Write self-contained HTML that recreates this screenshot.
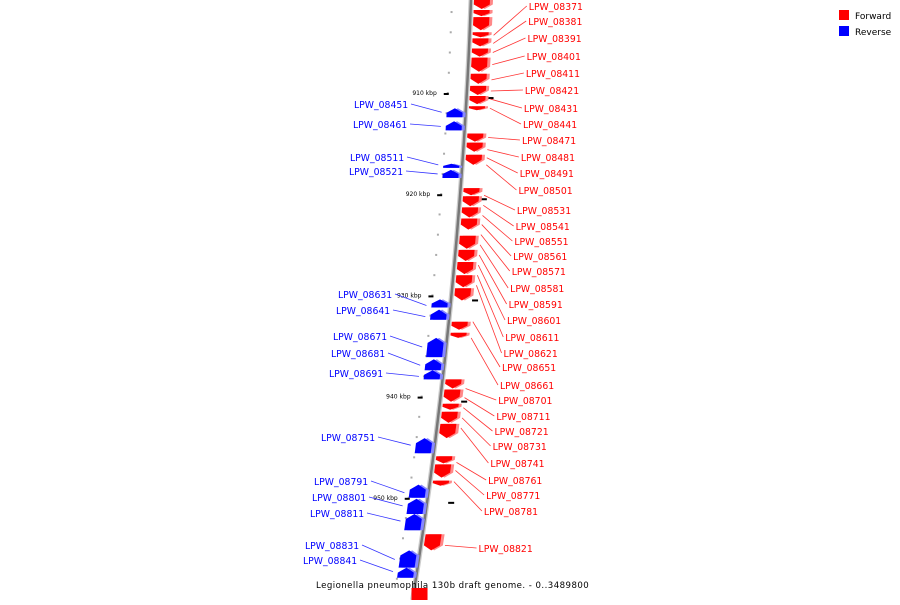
<!DOCTYPE html>
<html><head><meta charset="utf-8"><style>
body{margin:0;background:#fff;width:900px;height:600px;overflow:hidden}
svg text{font-family:"DejaVu Sans","Liberation Sans",sans-serif}
</style></head><body>
<svg id="c" width="900" height="600" xmlns="http://www.w3.org/2000/svg">
<g id="legend">
<rect x="839" y="10" width="10" height="10" fill="#f00"/>
<text x="855" y="19" font-size="9">Forward</text>
<rect x="839" y="26" width="10" height="10" fill="#00f"/>
<text x="855" y="35" font-size="9">Reverse</text>
</g>
</svg>
<script>
// data (positions in kbp)
const fwdStart=[900.8,901.8,902.5,904.0,904.6,905.6,906.5,908.1,909.3,910.3,911.3,914.0,914.9,916.1,919.4,920.2,921.3,922.4,924.1,925.5,926.7,928.0,929.3,932.6,933.7,938.3,939.3,940.7,941.5,942.7,945.9,946.7,948.3,953.6];
const fwdEnd=[901.7,902.4,903.8,904.5,905.4,906.4,907.9,909.1,910.2,911.1,911.7,914.8,915.8,917.1,920.1,921.2,922.3,923.5,925.4,926.6,927.9,929.2,930.5,933.4,934.2,939.2,940.5,941.3,942.6,944.1,946.6,948.0,948.8,955.2];
const revStart=[911.5,912.8,917.0,917.6,930.4,931.4,934.2,936.3,937.4,944.1,948.7,950.1,951.6,955.2,956.9];
const revEnd=[912.4,913.7,917.4,918.4,931.2,932.4,936.1,937.4,938.3,945.6,950.0,951.6,953.2,956.9,957.9];
const fwdLabels=["LPW_08371","LPW_08381","LPW_08391","LPW_08401","LPW_08411","LPW_08421","LPW_08431","LPW_08441","LPW_08471","LPW_08481","LPW_08491","LPW_08501","LPW_08531","LPW_08541","LPW_08551","LPW_08561","LPW_08571","LPW_08581","LPW_08591","LPW_08601","LPW_08611","LPW_08621","LPW_08651","LPW_08661","LPW_08701","LPW_08711","LPW_08721","LPW_08731","LPW_08741","LPW_08761","LPW_08771","LPW_08781","LPW_08821"];
const fwdTarget=[904.3,905.1,906.0,907.2,908.7,909.8,910.6,911.5,914.4,915.6,916.4,917.1,920.1,921.1,922.1,923.0,924.0,925.0,926.0,927.0,928.0,929.0,932.6,934.2,939.2,940.1,941.1,942.1,943.1,946.5,947.3,948.4,954.7];
const fwdLabelY=[6,21,38,56,73,90,108,124,140,157,173,190,210,226,241,256,271,288,304,320,337,353,367,385,400,416,431,446,463,480,495,511,548];
const revLabels=["LPW_08451","LPW_08461","LPW_08511","LPW_08521","LPW_08631","LPW_08641","LPW_08671","LPW_08681","LPW_08691","LPW_08751","LPW_08791","LPW_08801","LPW_08811","LPW_08831","LPW_08841"];
const revTarget=[911.9,913.3,917.1,918.0,931.0,932.1,935.1,936.9,938.0,944.8,949.5,950.8,952.3,956.1,957.3];
const revLabelY=[104,124,157,171,294,310,336,353,373,437,481,497,513,545,560];
const revLabelStart=[354,353,350,349,338,336,333,331,329,321,314,312,310,305,303];
const majorTicks=[910,920,930,940,950];
const minorFrom=900, minorTo=958, minorStep=2;

const svg=document.getElementById('c');
const NS='http://www.w3.org/2000/svg';
function ys(kb){return 93+(kb-910)*10.12;}
function ax(y){return 471-0.036*y-0.0001023*y*y;}
function mk(tag,attrs,parent){const e=document.createElementNS(NS,tag);for(const k in attrs)e.setAttribute(k,attrs[k]);(parent||svg).appendChild(e);return e;}

const axisPts=[];for(let y=0;y<=600;y+=20)axisPts.push(ax(y).toFixed(1)+','+y);
const axisShadow=mk('polyline',{points:axisPts.join(' '),fill:'none',stroke:'#ccc','stroke-width':5});


const axis=mk('polyline',{points:axisPts.join(' '),fill:'none',stroke:'#777','stroke-width':2.5});



for(let k=minorFrom;k<=minorTo;k+=minorStep){
  const y=ys(k);
  const d=mk('rect',{x:ax(y)-20,y:y-1,width:2,height:2,fill:'#aaa'});
  
  
}
majorTicks.forEach(k=>{
  const y=ys(k);
  const t=mk('rect',{x:ax(y)-23,y:y,width:5,height:2,fill:'#000'});
  
  
  const l=mk('text',{x:ax(y)-30,y:y+2,'font-size':6,'text-anchor':'end',fill:'#000'});
  l.textContent=k+' kbp';
  
  
  const y2=ys(k+0.4);
  const r=mk('rect',{x:ax(y2)+21,y:y2,width:6,height:2,fill:'#000'});
  
  
});

function gene(s,e,fwd){
  const y0=ys(s),y1=ys(e),h=y1-y0,tip=Math.min(5,h*0.5),w=16;
  let pts;
  if(fwd){
    const a=ax(y0)+3,b=ax(y1)+3,bm=ax(y1-tip)+3;
    pts=[[a,y0],[a+w,y0],[bm+w,y1-tip],[b+w/2,y1],[bm,y1-tip]];
  }else{
    const a=ax(y0)-3-w,b=ax(y1)-3-w,am=ax(y0+tip)-3-w;
    pts=[[a+w/2,y0],[am+w,y0+tip],[b+w,y1],[b,y1],[am,y0+tip]];
  }
  const g=mk('g',{});
  
  
  const sh=mk('polygon',{points:pts.map(q=>(q[0]+3).toFixed(1)+','+q[1].toFixed(1)).join(' '),fill:fwd?'#f88':'#88f'},g);
  
  
  const p=mk('polygon',{points:pts.map(q=>q[0].toFixed(1)+','+q[1].toFixed(1)).join(' '),fill:fwd?'#f00':'#00f'},g);
  
  
}
fwdStart.forEach((s,i)=>gene(s,fwdEnd[i],true));
revStart.forEach((s,i)=>gene(s,revEnd[i],false));

fwdLabels.forEach((name,i)=>{
  const ly=fwdLabelY[i],lx=ax(ly)+58,ty=ys(fwdTarget[i]);
  const ln=mk('line',{x1:lx-2,y1:ly,x2:ax(ty)+24,y2:ty,stroke:'#f33','stroke-width':0.8});
  
  
  const t=mk('text',{x:lx,y:ly+4,'font-size':9.3,fill:'#f00'});
  t.textContent=name;
  
  
});
revLabels.forEach((name,i)=>{
  const ly=revLabelY[i],sx=revLabelStart[i],ty=ys(revTarget[i]);
  const t=mk('text',{x:sx,y:ly+4,'font-size':9.3,fill:'#00f'});
  t.textContent=name;
  
  
  const ln=mk('line',{x1:sx+57,y1:ly,x2:ax(ty)-24,y2:ty,stroke:'#33f','stroke-width':0.8});
  
  
});

const bg=mk('rect',{x:ax(594)-2,y:588,width:16,height:12,fill:'#f00'});


const title=mk('text',{x:316,y:588,'font-size':8.6,fill:'#000','letter-spacing':'0.45'});
title.textContent='Legionella pneumophila 130b draft genome. - 0..3489800';


</script>
</body></html>
